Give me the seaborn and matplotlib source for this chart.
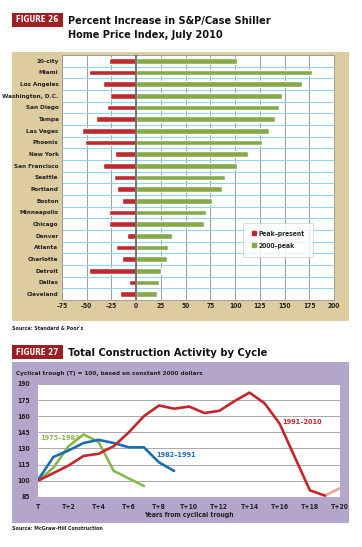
import numpy as np
import pandas as pd
import matplotlib
matplotlib.use("Agg")
import matplotlib.pyplot as plt
from matplotlib.patches import Rectangle
from matplotlib.lines import Line2D
from matplotlib.ticker import FixedLocator
import seaborn as sns

# ---------------- data ----------------
cities = ["20-city", "Miami", "Los Angeles", "Washington, D.C.", "San Diego", "Tampa",
          "Las Vegas", "Phoenix", "New York", "San Francisco", "Seattle", "Portland",
          "Boston", "Minneapolis", "Chicago", "Denver", "Atlanta", "Charlotte",
          "Detroit", "Dallas", "Cleveland"]
peak_present = [-27, -48, -34, -26, -30, -41, -55, -52, -21, -34, -22, -19,
                -14, -27, -27, -9, -20, -14, -48, -7, -16]
since_2000 = [102, 178, 168, 147, 144, 140, 134, 127, 113, 102, 90, 87,
              77, 71, 69, 36, 32, 31, 25, 23, 21]
bar_ticks = [-75, -50, -25, 0, 25, 50, 75, 100, 125, 150, 175, 200]

years_7582 = [0, 1, 2, 3, 4, 5, 6, 7]
vals_7582 = [100, 112, 132, 143, 136, 109, 102, 95]
years_8291 = [0, 1, 2, 3, 4, 5, 6, 7, 8, 9]
vals_8291 = [101, 122, 128, 135, 138, 135, 131, 131, 117, 109]
years_9110 = [0, 1, 2, 3, 4, 5, 6, 7, 8, 9, 10, 11, 12, 13, 14, 15, 16, 17, 18, 19]
vals_9110 = [100, 107, 114, 123, 125, 132, 145, 160, 170, 167, 169, 163, 165, 174,
             182, 172, 153, 122, 91, 86]
years_proj = [19, 20]
vals_proj = [86, 93]
line_yticks = [85, 100, 115, 130, 145, 160, 175, 190]
line_xticklabels = ["T", "T+2", "T+4", "T+6", "T+8", "T+10", "T+12", "T+14", "T+16", "T+18", "T+20"]

# ---------------- style ----------------
RED = "#bf2a2f"
GREEN = "#86a94a"
TAN = "#dccca0"
DARKRED = "#9c1f24"
LAV = "#b4a6cb"
FAM = ["DejaVu Sans"]

sns.set_theme(style="white")
plt.rcParams["font.family"] = FAM
plt.rcParams["font.stretch"] = "condensed"

W, H = 362, 547
fig = plt.figure(figsize=(W / 100, H / 100), dpi=100)
fig.patch.set_facecolor("white")

def fx(px): return px / W
def fy(py): return 1 - py / H

# ---- panels ----
fig.patches.append(Rectangle((fx(12), fy(321)), fx(337), (321 - 52) / H,
                             transform=fig.transFigure, facecolor=TAN, edgecolor="none", zorder=-5))
fig.patches.append(Rectangle((fx(12), fy(523)), fx(337), (523 - 362) / H,
                             transform=fig.transFigure, facecolor=LAV, edgecolor="none", zorder=-5))

# ---- titles ----
for (y0, y1, label) in [(13.3, 26.7, "FIGURE 26"), (345, 359.3, "FIGURE 27")]:
    fig.patches.append(Rectangle((fx(12), fy(y1)), fx(51), (y1 - y0) / H,
                                 transform=fig.transFigure, facecolor=DARKRED, edgecolor="none"))
    fig.text(fx(37.5), fy((y0 + y1) / 2), label, color="white", fontsize=5.8,
             fontweight="bold", ha="center", va="center")

fig.text(fx(68), fy(21), "Percent Increase in S&P/Case Shiller", fontsize=7.8,
         fontweight="bold", ha="left", va="center", color="#111")
fig.text(fx(68), fy(34.5), "Home Price Index, July 2010", fontsize=7.8,
         fontweight="bold", ha="left", va="center", color="#111")
fig.text(fx(68), fy(352.5), "Total Construction Activity by Cycle", fontsize=7.9,
         fontweight="bold", ha="left", va="center", color="#111")

fig.text(fx(12), fy(329), "Source: Standard & Poor's", fontsize=3.8, fontweight="bold",
         ha="left", va="center", color="#222")
fig.text(fx(12), fy(528.5), "Source: McGraw-Hill Construction", fontsize=3.8, fontweight="bold",
         ha="left", va="center", color="#222")
fig.text(fx(16), fy(373), "Cyclical trough (T) = 100, based on constant 2000 dollars",
         fontsize=4.6, fontweight="bold", ha="left", va="center", color="#222")

# ---------------- bar chart ----------------
ax = fig.add_axes([fx(62), fy(300), fx(272), 245 / H])
ax.set_zorder(2)
ax.set_facecolor("white")
df = pd.DataFrame({
    "city": cities * 2,
    "value": peak_present + since_2000,
    "series": ["Peak–present"] * len(cities) + ["2000–peak"] * len(cities),
})
sns.barplot(data=df, x="value", y="city", hue="series", order=cities,
            hue_order=["Peak–present", "2000–peak"], palette=[RED, GREEN],
            dodge=False, width=0.46, orient="h", ax=ax, legend=False,
            saturation=1, zorder=3)
ax.set_xlim(-75, 200)
ax.set_ylim(len(cities) - 0.5, -0.5)
ax.set_xticks(bar_ticks)
ax.set_xticklabels([str(t).replace("-", "–") for t in bar_ticks], fontsize=4.8,
                   fontweight="bold", color="#222")
ax.set_yticks(range(len(cities)))
ax.set_yticklabels(cities, fontsize=4.6, fontweight="bold", color="#222")
ax.yaxis.set_minor_locator(FixedLocator(np.arange(-0.5, len(cities), 1)))
ax.grid(which="minor", axis="y", color="#8fd6ec", lw=0.8, zorder=1)
ax.grid(which="major", axis="x", color="#8a8a8a", lw=0.6, zorder=1)
ax.grid(which="major", axis="y", visible=False)
ax.axvline(0, color="#6b6b6b", lw=1.3, zorder=4)
ax.tick_params(axis="both", which="both", length=0, pad=2.5)
ax.set_xlabel("")
ax.set_ylabel("")
for s in ax.spines.values():
    s.set_color("#999999")
    s.set_linewidth(0.6)

handles = [Line2D([], [], marker="s", ls="none", color=RED, markersize=3.2),
           Line2D([], [], marker="s", ls="none", color=GREEN, markersize=3.2)]
leg = ax.legend(handles, ["Peak–present", "2000–peak"], loc="upper left",
                bbox_to_anchor=(0.665, 0.316), frameon=True, fancybox=False,
                prop={"weight": "bold", "size": 4.9},
                handletextpad=0.3, borderpad=1.2, labelspacing=0.9,
                handlelength=0.8, borderaxespad=0)
leg.get_frame().set_edgecolor("#cccccc")
leg.get_frame().set_linewidth(0.6)
leg.set_zorder(6)

# ---------------- line chart ----------------
ax2 = fig.add_axes([fx(38.3), fy(496.7), fx(301.7), 112.7 / H])
ax2.set_zorder(2)
ax2.set_facecolor("white")
df2 = pd.DataFrame({
    "year": years_7582 + years_8291 + years_9110,
    "value": vals_7582 + vals_8291 + vals_9110,
    "cycle": ["1975–1982"] * len(years_7582) + ["1982–1991"] * len(years_8291)
             + ["1991–2010"] * len(years_9110),
})
sns.lineplot(data=df2, x="year", y="value", hue="cycle",
             hue_order=["1975–1982", "1982–1991", "1991–2010"],
             palette=["#8ab84c", "#1c6cb4", "#c4262c"], linewidth=1.9,
             legend=False, ax=ax2, zorder=3)
sns.lineplot(x=years_proj, y=vals_proj, color="#eba597", linewidth=1.9, ax=ax2, zorder=2)
ax2.set_xlim(0, 20)
ax2.set_ylim(85, 190)
ax2.set_yticks(line_yticks)
ax2.set_yticklabels([str(t) for t in line_yticks], fontsize=4.9, fontweight="bold", color="#222")
ax2.set_xticks(range(0, 21, 2))
ax2.set_xticks(range(0, 21), minor=True)
ax2.set_xticklabels(line_xticklabels, fontsize=4.9, fontweight="bold", color="#222")
ax2.grid(axis="y", color="#a9a9a9", lw=0.7, zorder=1)
ax2.grid(axis="x", visible=False)
ax2.tick_params(axis="y", length=0, pad=6)
ax2.tick_params(axis="x", which="both", direction="inout", length=5, width=0.6,
                color="#777777", pad=3)
for s in ax2.spines.values():
    s.set_visible(False)
ax2.set_xlabel("Years from cyclical trough", fontsize=4.9, fontweight="bold",
               color="#222", labelpad=1)
ax2.set_ylabel("")

ax2.text(0.12, 139.5, "1975–1982", color="#8ab84c", fontsize=5.2, fontweight="bold",
         ha="left", va="center")
ax2.text(7.8, 124, "1982–1991", color="#1c6cb4", fontsize=5.2, fontweight="bold",
         ha="left", va="center")
ax2.text(16.2, 154.5, "1991–2010", color="#c4262c", fontsize=5.2, fontweight="bold",
         ha="left", va="center")

fig.savefig("out.png", dpi=100, facecolor="white")
